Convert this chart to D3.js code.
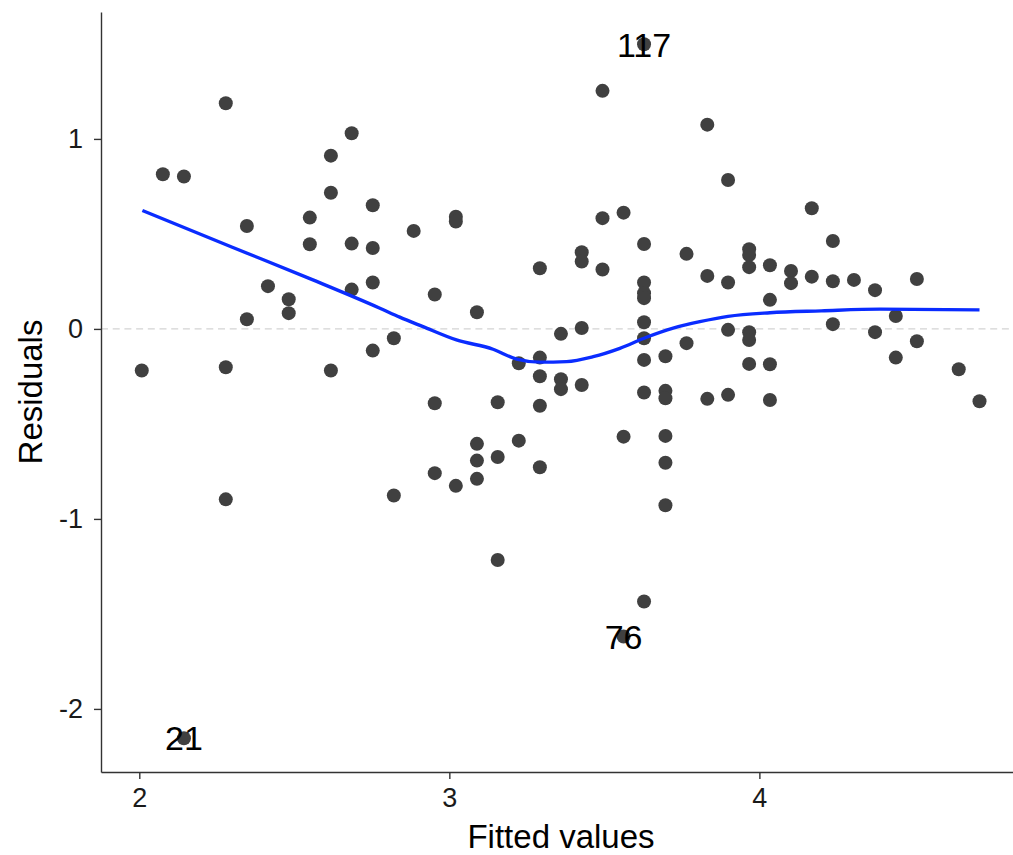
<!DOCTYPE html>
<html>
<head>
<meta charset="utf-8">
<script src="https://cdn.jsdelivr.net/npm/d3@7"></script>
<style>
  html, body { margin: 0; padding: 0; background: #fff; }
  svg { display: block; font-family: "Liberation Sans", Arial, sans-serif; }
</style>
</head>
<body>
<svg id="chart" width="1013" height="855"></svg>
<script>
// ---- data ----
const fitted = [
  2.008, 2.076, 2.144, 2.279, 2.279, 2.279, 2.347, 2.347, 2.415, 2.482,
  2.482, 2.550, 2.550, 2.618, 2.618, 2.618, 2.685, 2.685, 2.685, 2.753,
  2.753, 2.753, 2.753, 2.821, 2.821, 2.885, 2.953, 2.953, 2.953, 3.021,
  3.021, 3.021, 3.089, 3.089, 3.089, 3.089, 3.156, 3.156, 3.156, 3.224,
  3.224, 3.292, 3.292, 3.292, 3.292, 3.292, 3.360, 3.360, 3.360, 3.427,
  3.427, 3.427, 3.427, 3.494, 3.494, 3.494, 3.562, 3.562, 3.562, 3.628,
  3.628, 3.628, 3.628, 3.628, 3.628, 3.628, 3.628, 3.628, 3.628, 3.697,
  3.697, 3.697, 3.697, 3.697, 3.697, 3.765, 3.765, 3.832, 3.832, 3.832,
  3.899, 3.899, 3.899, 3.899, 3.967, 3.967, 3.967, 3.967, 3.967, 3.967,
  4.034, 4.034, 4.034, 4.034, 4.102, 4.102, 4.169, 4.169, 4.237, 4.237,
  4.237, 4.305, 4.373, 4.373, 4.440, 4.440, 4.508, 4.508, 4.643, 4.710,
  2.144
];
const residuals = [
  -0.219, 0.814, 0.802, 1.188, -0.202, -0.897, 0.542, 0.051, 0.225, 0.156,
  0.083, 0.586, 0.446, 0.912, 0.717, -0.219, 1.030, 0.449, 0.207, 0.651,
  0.426, 0.244, -0.114, -0.049, -0.877, 0.516, 0.181, -0.391, -0.759, 0.591,
  0.565, -0.826, 0.088, -0.605, -0.693, -0.789, -0.386, -0.674, -1.216, -0.181,
  -0.588, 0.319, -0.151, -0.249, -0.404, -0.728, -0.026, -0.265, -0.317, 0.404,
  0.355, 0.005, -0.295, 1.253, 0.583, 0.313, 0.612, -0.567, -1.619, 1.498,
  0.447, 0.244, 0.188, 0.162, 0.035, -0.049, -0.163, -0.335, -1.435, -0.144,
  -0.326, -0.365, -0.563, -0.704, -0.928, 0.395, -0.075, 1.075, 0.279, -0.368,
  0.784, 0.244, -0.005, -0.347, 0.419, 0.389, 0.325, -0.017, -0.058, -0.184,
  0.335, 0.153, -0.186, -0.374, 0.305, 0.241, 0.635, 0.275, 0.463, 0.251,
  0.025, 0.258, 0.204, -0.017, 0.068, -0.151, 0.263, -0.065, -0.212, -0.381,
  -2.154
];
// labelled outliers (observation ids)
const outlierIds = ["117", "76", "21"];
const outlierX = [3.628, 3.562, 2.144];
const outlierY = [1.498, -1.619, -2.154];

// loess smooth
const smoothX = [2.010, 2.300, 2.560, 2.776, 2.840, 2.915, 3.023, 3.141, 3.217, 3.292,
                 3.378, 3.464, 3.550, 3.636, 3.722, 3.808, 3.899, 4.034, 4.200, 4.389, 4.710];
const smoothY = [0.623, 0.430, 0.258, 0.109, 0.062, 0.012, -0.058, -0.107, -0.159, -0.175,
                 -0.172, -0.146, -0.102, -0.044, 0.004, 0.038, 0.066, 0.085, 0.095, 0.104, 0.100];

const xTicks = [2, 3, 4];
const yTicks = [-2, -1, 0, 1];

// ---- layout ----
const svg = d3.select("#chart");
const L = 101, R = 1013, T = 12, B = 772;

const x = d3.scaleLinear().domain([1.8765, 4.818]).range([L, R]);
const y = d3.scaleLinear().domain([-2.332, 1.668]).range([B, T]);

// zero reference line
svg.append("line")
  .attr("x1", L).attr("x2", R)
  .attr("y1", y(0)).attr("y2", y(0))
  .attr("stroke", "#d4d4d4").attr("stroke-width", 1.2)
  .attr("stroke-dasharray", "7,4.7");

// points
svg.append("g").selectAll("circle")
  .data(fitted.map((d, i) => [d, residuals[i]]))
  .join("circle")
  .attr("cx", d => x(d[0]))
  .attr("cy", d => y(d[1]))
  .attr("r", 7)
  .attr("fill", "#404040");

// smooth line
svg.append("path")
  .datum(smoothX.map((d, i) => [d, smoothY[i]]))
  .attr("fill", "none")
  .attr("stroke", "#0a2cff")
  .attr("stroke-width", 3.4)
  .attr("d", d3.line().x(d => x(d[0])).y(d => y(d[1])).curve(d3.curveMonotoneX));

// outlier labels
svg.append("g").selectAll("text")
  .data(outlierIds.map((id, i) => ({ id, x: outlierX[i], y: outlierY[i] })))
  .join("text")
  .attr("x", d => x(d.x))
  .attr("y", d => y(d.y))
  .attr("dy", "0.36em")
  .attr("text-anchor", "middle")
  .attr("font-size", 34)
  .attr("fill", "#000")
  .text(d => d.id);

// axes
const xAxis = d3.axisBottom(x).tickValues(xTicks).tickFormat(d3.format("d"))
  .tickSizeInner(7).tickSizeOuter(0).tickPadding(9);
const yAxis = d3.axisLeft(y).tickValues(yTicks).tickFormat(d3.format("d"))
  .tickSizeInner(7).tickSizeOuter(0).tickPadding(11);

const gx = svg.append("g").attr("transform", `translate(0,${B})`).call(xAxis);
const gy = svg.append("g").attr("transform", `translate(${L},0)`).call(yAxis);
[gx, gy].forEach(g => {
  g.select(".domain").attr("stroke", "#333").attr("stroke-width", 1.4);
  g.selectAll(".tick line").attr("stroke", "#333").attr("stroke-width", 1.4);
  g.selectAll(".tick text").attr("font-size", 27).attr("fill", "#1a1a1a")
    .attr("font-family", "'Liberation Sans', Arial, sans-serif");
});
gy.selectAll(".tick text").text(d => d < 0 ? "-" + Math.abs(d) : d);

// axis titles
svg.append("text")
  .attr("x", 561).attr("y", 848)
  .attr("text-anchor", "middle")
  .attr("font-size", 33).attr("fill", "#000")
  .text("Fitted values");

svg.append("text")
  .attr("transform", `translate(42,${(T + B) / 2}) rotate(-90)`)
  .attr("text-anchor", "middle")
  .attr("font-size", 33).attr("fill", "#000")
  .text("Residuals");
</script>
</body>
</html>
